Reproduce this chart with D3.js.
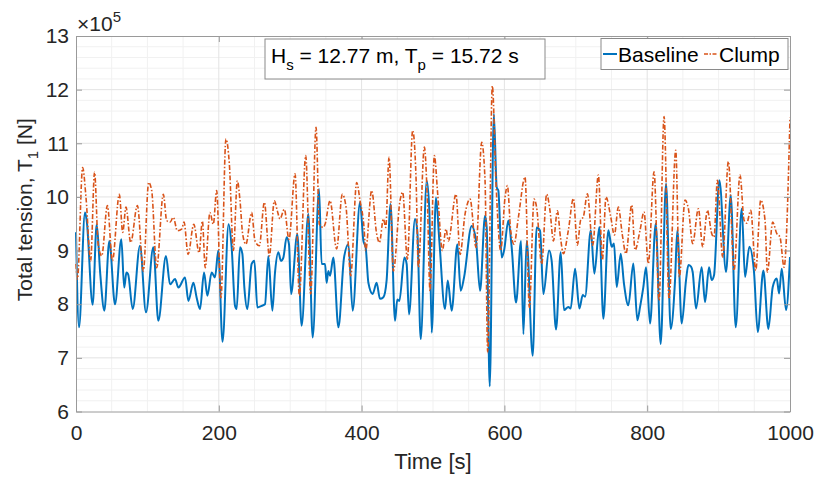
<!DOCTYPE html>
<html>
<head>
<meta charset="utf-8">
<script src="https://cdn.jsdelivr.net/npm/d3@7.9.0/dist/d3.min.js"></script>
<style>
  body { margin: 0; background: #fff; }
  svg { font-family: "Liberation Sans", Arial, sans-serif; }
</style>
</head>
<body>
<div id="chart"></div>
<script>
// Baseline series, values in units of 1e5 N
const baseTime = [0,4.2,12.6,15,23.3,29,34,39.7,46.7,54.6,63.5,67.5,70.6,73,79.4,89.6,98,108.3,115.3,126,131.7,138.7,143.4,152.7,157.4,164.4,169,173.7,179.3,184,190,194.7,199.3,205.2,213.7,218,222.7,225,229.7,233,235.8,240,246,249.8,254,260,264.7,269.4,275,278.7,283.4,287,290.4,295,298.3,301.2,310,316,325.4,331.5,340.4,344,348.8,351,353.4,355.8,360.4,367.5,375.4,381.5,387.5,397.8,402.5,405.7,409.5,415.5,421,425.8,430.5,435,440.5,446.8,450,452.9,459.9,463.1,466.4,474.8,478,482.8,491.2,494.9,498.2,504.2,508.9,516.8,520.6,526.2,534.1,538.8,543.5,554.2,560.3,565.9,572.9,575.2,579.5,585.2,589.2,591.5,596.2,599.5,605.6,610.2,616.3,623.3,626.6,631.2,639.6,645.2,649.9,654.6,662.5,666.2,672.3,678.9,683.5,689.6,692.8,699,705,709.7,713,721,726,733,738.6,745.6,750.3,753.5,757.3,762.9,767.5,773.6,780.6,786.2,790,794.6,798.4,804,811.9,818.9,826.4,832.9,839,842.2,848.3,854.4,857.7,861.4,863.7,868.4,876.3,881,886.6,890.3,893.6,901.1,910.4,917,924,932.4,937,943.1,949.6,954.8,962.7,969.7,975.8,981.4,984.7,988.4,994.5,1000];
const baseVal = [9.34,7.57,9.71,9.56,7.99,9.49,8.56,7.88,9.18,8.0,9.21,8.31,8.59,8.56,7.91,9.09,7.85,9.06,7.69,8.90,8.37,8.47,8.31,8.5,8.06,8.40,8.12,7.91,8.59,8.16,8.59,8.5,9.0,7.30,9.49,9.06,7.97,7.91,9.06,8.94,8.31,7.91,8.75,8.81,7.94,7.97,8.0,8.9,7.88,8.59,8.97,8.81,8.87,9.25,9.12,8.19,9.31,7.6,9.68,7.38,10.15,8.75,8.75,8.40,8.62,8.53,8.87,7.57,8.87,9.12,7.88,9.9,9.18,9.06,8.40,8.19,8.40,8.1,8.13,8.44,9.87,7.69,8.09,8.06,8.87,8.75,7.81,9.59,9.37,7.35,10.3,9.74,7.47,9.99,9.18,7.91,8.44,7.88,9.12,8.25,8.5,9.46,9.18,8.25,9.65,9.43,6.47,11.55,10.18,10.12,8.87,9.0,9.56,9.06,8.03,9.18,7.44,9.18,7.04,9.43,9.37,8.19,9.0,8.81,7.53,8.97,7.89,7.95,7.92,8.66,7.92,8.17,8.14,9.38,8.57,9.44,7.73,9.38,9.07,9.13,8.32,8.94,8.38,7.98,8.76,7.70,7.95,8.32,8.69,7.64,9.5,7.26,10.25,7.54,8.45,9.38,7.64,8.45,8.73,8.7,8.6,7.92,8.69,8.04,8.69,8.45,8.54,10.31,8.6,10.03,7.57,9.78,8.51,9.07,8.6,7.48,8.63,7.54,8.32,8.48,8.2,8.66,7.89,8.88];

// Clump series, values in units of 1e5 N
const clumpTime = [0,2,9.3,14,20.5,26,31,36,44,51,60.7,65.4,70,76.6,86,94.3,101.8,106,113,122.3,127,131.7,136.3,141.9,148,151.3,157,165,172.4,177,181,187.6,192.3,197,203,210,214.8,220.4,226,229.7,233.4,238,246,250.7,256.8,263.8,270.8,277.8,282,285.7,291.8,298.3,306.8,312.8,321.7,328.7,336.2,340.8,346.4,348.8,355.8,365,373,378.2,384.7,393.1,397.8,403.4,405.7,414.1,421.1,425,430.5,433.8,438.4,444.5,453.8,457.5,464.1,471.5,476.2,479.5,487.9,492.1,495.8,501.9,506.6,513.1,518.2,521.5,532.2,537.9,544.9,551.9,560.3,568.2,572.9,576.6,583.1,588.3,594.8,600.9,604.2,608.8,613.5,619.6,628.9,635,641.5,645.2,652.2,659.2,663.9,668.6,674.2,678.5,682.6,689.6,696.6,702.2,706.8,710.6,716.2,723.7,731.6,737.2,742.3,748.9,754,759.6,765.2,770.3,778.3,783,790,795.5,801.6,809.6,816.6,823.6,830.6,840,845,853,857.7,863.7,871.7,877.7,884.3,890.3,893.6,898.3,905.7,913.7,921.6,930,935.6,939.3,945,952,959,965,968.3,975.8,981.4,986,991.7,1000];
const clumpVal = [8.75,8.47,10.55,9.99,8.81,10.46,9.12,8.9,9.84,8.81,10.05,9.34,9.81,9.15,9.84,8.62,10.27,10.12,8.68,10.05,9.56,9.53,9.62,9.37,9.40,9.53,8.93,9.49,8.96,9.55,8.68,9.71,9.49,10.12,8.12,11.08,10.61,9.0,10.3,9.93,9.31,9.12,9.71,9.18,9.09,9.9,8.9,9.93,9.74,9.59,9.77,9.21,10.43,8.16,10.77,8.19,11.3,9.49,9.43,9.49,9.93,9.03,10.05,9.81,8.53,10.27,9.93,9.43,9.0,10.12,9.31,9.15,9.59,9.43,10.74,8.62,9.93,10.09,8.84,11.24,10.37,8.69,10.93,9.93,8.25,10.77,10.05,9.0,9.40,9.18,10.05,8.93,9.68,9.96,9.06,11.02,10.3,7.1,12.07,10.24,9.0,9.99,10.21,9.37,9.12,9.62,10.37,7.94,9.96,9.80,8.75,10.05,9.74,9.18,9.74,9.25,8.94,9.38,9.97,9.1,9.57,9.63,10.06,9.1,10.41,8.82,10.0,9.63,9.29,9.81,9.29,8.94,9.85,9.01,9.38,9.72,8.76,10.47,8.07,11.5,8.1,10.87,8.51,9.94,9.78,9.13,9.78,9.07,9.75,9.32,9.25,10.31,8.88,10.66,8.63,10.41,9.57,9.51,9.75,8.63,9.94,9.57,8.6,9.53,9.32,9.25,8.69,11.48];

const xTicks = [0, 200, 400, 600, 800, 1000];
const yTicks = [6, 7, 8, 9, 10, 11, 12, 13];

const W = 814, H = 477;
const margin = {top: 36, right: 24, bottom: 65.5, left: 76};
const width = W - margin.left - margin.right;
const height = H - margin.top - margin.bottom;

const svg = d3.select("#chart").append("svg")
    .attr("width", W)
    .attr("height", H);

const g = svg.append("g")
    .attr("transform", `translate(${margin.left},${margin.top})`);

const x = d3.scaleLinear().domain([0, 1000]).range([0, width]);
const y = d3.scaleLinear().domain([6, 13]).range([height, 0]);

// minor grid
g.append("g").selectAll("line")
    .data(d3.range(0, 1001, 50).filter(v => v % 200 !== 0))
    .join("line")
    .attr("x1", d => x(d)).attr("x2", d => x(d))
    .attr("y1", 0).attr("y2", height)
    .attr("stroke", "#f1f1f1").attr("stroke-width", 1);
g.append("g").selectAll("line")
    .data(d3.range(60, 131, 2).map(v => v / 10).filter(v => Math.abs(v - Math.round(v)) > 1e-6))
    .join("line")
    .attr("x1", 0).attr("x2", width)
    .attr("y1", d => y(d)).attr("y2", d => y(d))
    .attr("stroke", "#f1f1f1").attr("stroke-width", 1);

// major grid
g.append("g").selectAll("line")
    .data(xTicks.slice(1, -1))
    .join("line")
    .attr("x1", d => x(d)).attr("x2", d => x(d))
    .attr("y1", 0).attr("y2", height)
    .attr("stroke", "#e3e3e3").attr("stroke-width", 1);
g.append("g").selectAll("line")
    .data(yTicks.slice(1, -1))
    .join("line")
    .attr("x1", 0).attr("x2", width)
    .attr("y1", d => y(d)).attr("y2", d => y(d))
    .attr("stroke", "#e3e3e3").attr("stroke-width", 1);

// series
const baseData = baseTime.map((t, i) => ({t: t, v: baseVal[i]}));
const clumpData = clumpTime.map((t, i) => ({t: t, v: clumpVal[i]}));

const line = d3.line()
    .x(d => x(d.t))
    .y(d => y(d.v))
    .curve(d3.curveMonotoneX);

g.append("path")
    .datum(baseData)
    .attr("fill", "none")
    .attr("stroke", "#0072BD")
    .attr("stroke-width", 2)
    .attr("d", line);

g.append("path")
    .datum(clumpData)
    .attr("fill", "none")
    .attr("stroke", "#D95319")
    .attr("stroke-width", 1.6)
    .attr("stroke-dasharray", "5,2,1.5,2")
    .attr("d", line);

// axes (box, inward ticks)
const axisColor = "#9a9a9a";
g.append("g")
    .attr("transform", `translate(0,${height})`)
    .call(d3.axisBottom(x).tickValues(xTicks).tickFormat(d3.format("d"))
        .tickSizeInner(-6).tickSizeOuter(0).tickPadding(14));
g.append("g")
    .call(d3.axisLeft(y).tickValues(yTicks).tickFormat(d3.format("d"))
        .tickSizeInner(-6).tickSizeOuter(0).tickPadding(7));
g.append("g")
    .call(d3.axisTop(x).tickValues(xTicks).tickSizeInner(-6).tickSizeOuter(0).tickFormat(""));
g.append("g")
    .attr("transform", `translate(${width},0)`)
    .call(d3.axisRight(y).tickValues(yTicks).tickSizeInner(-6).tickSizeOuter(0).tickFormat(""));

g.selectAll(".domain, .tick line").attr("stroke", axisColor);
g.selectAll(".tick text")
    .attr("fill", "#262626")
    .attr("font-size", "21px")
    .attr("font-family", "Liberation Sans, Arial, sans-serif");

// exponent label
const expo = g.append("text")
    .attr("x", 1)
    .attr("y", -5)
    .attr("fill", "#262626")
    .attr("font-size", "21px");
expo.append("tspan").text("\u00d710");
expo.append("tspan").attr("font-size", "15px").attr("dy", -9).text("5");

// axis labels
g.append("text")
    .attr("x", width / 2)
    .attr("y", height + 57)
    .attr("text-anchor", "middle")
    .attr("fill", "#262626")
    .attr("font-size", "22px")
    .text("Time [s]");

const yl = g.append("text")
    .attr("transform", `translate(-44,${height / 2 - 14}) rotate(-90)`)
    .attr("text-anchor", "middle")
    .attr("fill", "#262626")
    .attr("font-size", "21px");
yl.append("tspan").text("Total tension, T");
yl.append("tspan").attr("font-size", "15px").attr("dy", 6).text("1");
yl.append("tspan").attr("dy", -6).text(" [N]");

// annotation box
const ann = svg.append("g").attr("transform", "translate(265,39)");
ann.append("rect")
    .attr("width", 280).attr("height", 40)
    .attr("fill", "#fff").attr("stroke", "#8a8a8a").attr("stroke-width", 1);
const annText = ann.append("text")
    .attr("x", 6).attr("y", 24)
    .attr("fill", "#000")
    .attr("font-size", "21px");
annText.append("tspan").text("H");
annText.append("tspan").attr("font-size", "15px").attr("dy", 7).text("s");
annText.append("tspan").attr("dy", -7).text(" = 12.77 m, T");
annText.append("tspan").attr("font-size", "15px").attr("dy", 7).text("p");
annText.append("tspan").attr("dy", -7).text(" = 15.72 s");

// legend
const legend = svg.append("g").attr("transform", "translate(601,38.5)");
legend.append("rect")
    .attr("width", 187).attr("height", 31)
    .attr("fill", "#fff").attr("stroke", "#8a8a8a").attr("stroke-width", 1);
const legendItems = [
    {name: "Baseline", color: "#0072BD", dash: null, width: 2, x: 2},
    {name: "Clump", color: "#D95319", dash: "4,1.5,1.5,1.5", width: 1.6, x: 103}
];
legendItems.forEach(it => {
    legend.append("line")
        .attr("x1", it.x).attr("x2", it.x + 14)
        .attr("y1", 15.5).attr("y2", 15.5)
        .attr("stroke", it.color)
        .attr("stroke-width", it.width)
        .attr("stroke-dasharray", it.dash);
    legend.append("text")
        .attr("x", it.x + 15).attr("y", 23)
        .attr("fill", "#000")
        .attr("font-size", "21px")
        .text(it.name);
});
</script>
</body>
</html>
